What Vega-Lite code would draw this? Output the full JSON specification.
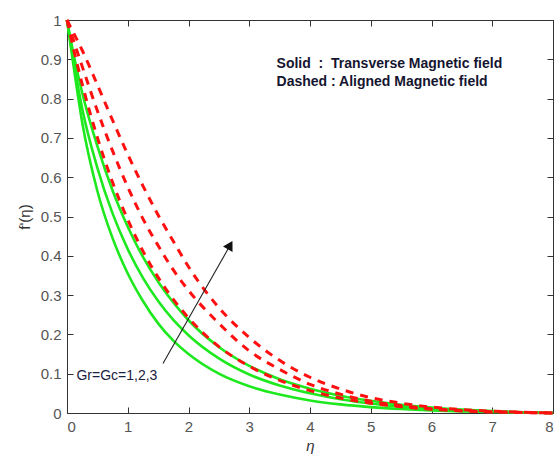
{
  "$schema": "https://vega.github.io/schema/vega-lite/v6.json",
  "width": 486,
  "height": 393,
  "autosize": "none",
  "padding": {"left": 67, "top": 20, "right": 2, "bottom": 48},
  "background": "white",
  "config": {
    "font": "Liberation Sans",
    "view": {"stroke": "#333333", "strokeWidth": 1},
    "axis": {
      "domainColor": "#333333",
      "tickColor": "#333333",
      "labelColor": "#555555",
      "labelFontSize": 15,
      "tickSize": -6,
      "labelPadding": 12,
      "grid": false,
      "titleColor": "#333333",
      "titleFontWeight": "normal",
      "titleFontSize": 15
    }
  },
  "datasets": {
    "curves": [
      {"eta": 0, "f": 1, "field": "Transverse", "Gr": 1},
      {"eta": 0.125, "f": 0.865, "field": "Transverse", "Gr": 1},
      {"eta": 0.25, "f": 0.74, "field": "Transverse", "Gr": 1},
      {"eta": 0.5, "f": 0.565, "field": "Transverse", "Gr": 1},
      {"eta": 0.75, "f": 0.445, "field": "Transverse", "Gr": 1},
      {"eta": 1, "f": 0.355, "field": "Transverse", "Gr": 1},
      {"eta": 1.25, "f": 0.285, "field": "Transverse", "Gr": 1},
      {"eta": 1.5, "f": 0.228, "field": "Transverse", "Gr": 1},
      {"eta": 1.75, "f": 0.184, "field": "Transverse", "Gr": 1},
      {"eta": 2, "f": 0.15, "field": "Transverse", "Gr": 1},
      {"eta": 2.5, "f": 0.1, "field": "Transverse", "Gr": 1},
      {"eta": 3, "f": 0.068, "field": "Transverse", "Gr": 1},
      {"eta": 3.5, "f": 0.047, "field": "Transverse", "Gr": 1},
      {"eta": 4, "f": 0.032, "field": "Transverse", "Gr": 1},
      {"eta": 4.5, "f": 0.022, "field": "Transverse", "Gr": 1},
      {"eta": 5, "f": 0.015, "field": "Transverse", "Gr": 1},
      {"eta": 5.5, "f": 0.01, "field": "Transverse", "Gr": 1},
      {"eta": 6, "f": 0.0065, "field": "Transverse", "Gr": 1},
      {"eta": 6.5, "f": 0.0042, "field": "Transverse", "Gr": 1},
      {"eta": 7, "f": 0.0025, "field": "Transverse", "Gr": 1},
      {"eta": 7.5, "f": 0.0012, "field": "Transverse", "Gr": 1},
      {"eta": 8, "f": 0, "field": "Transverse", "Gr": 1},
      {"eta": 0, "f": 1, "field": "Transverse", "Gr": 2},
      {"eta": 0.125, "f": 0.88, "field": "Transverse", "Gr": 2},
      {"eta": 0.25, "f": 0.775, "field": "Transverse", "Gr": 2},
      {"eta": 0.5, "f": 0.624, "field": "Transverse", "Gr": 2},
      {"eta": 0.75, "f": 0.508, "field": "Transverse", "Gr": 2},
      {"eta": 1, "f": 0.417, "field": "Transverse", "Gr": 2},
      {"eta": 1.25, "f": 0.344, "field": "Transverse", "Gr": 2},
      {"eta": 1.5, "f": 0.285, "field": "Transverse", "Gr": 2},
      {"eta": 1.75, "f": 0.237, "field": "Transverse", "Gr": 2},
      {"eta": 2, "f": 0.198, "field": "Transverse", "Gr": 2},
      {"eta": 2.5, "f": 0.139, "field": "Transverse", "Gr": 2},
      {"eta": 3, "f": 0.098, "field": "Transverse", "Gr": 2},
      {"eta": 3.5, "f": 0.07, "field": "Transverse", "Gr": 2},
      {"eta": 4, "f": 0.05, "field": "Transverse", "Gr": 2},
      {"eta": 4.5, "f": 0.035, "field": "Transverse", "Gr": 2},
      {"eta": 5, "f": 0.024, "field": "Transverse", "Gr": 2},
      {"eta": 5.5, "f": 0.016, "field": "Transverse", "Gr": 2},
      {"eta": 6, "f": 0.0105, "field": "Transverse", "Gr": 2},
      {"eta": 6.5, "f": 0.0065, "field": "Transverse", "Gr": 2},
      {"eta": 7, "f": 0.0038, "field": "Transverse", "Gr": 2},
      {"eta": 7.5, "f": 0.0017, "field": "Transverse", "Gr": 2},
      {"eta": 8, "f": 0, "field": "Transverse", "Gr": 2},
      {"eta": 0, "f": 1, "field": "Transverse", "Gr": 3},
      {"eta": 0.125, "f": 0.9, "field": "Transverse", "Gr": 3},
      {"eta": 0.25, "f": 0.815, "field": "Transverse", "Gr": 3},
      {"eta": 0.5, "f": 0.679, "field": "Transverse", "Gr": 3},
      {"eta": 0.75, "f": 0.566, "field": "Transverse", "Gr": 3},
      {"eta": 1, "f": 0.474, "field": "Transverse", "Gr": 3},
      {"eta": 1.25, "f": 0.397, "field": "Transverse", "Gr": 3},
      {"eta": 1.5, "f": 0.334, "field": "Transverse", "Gr": 3},
      {"eta": 1.75, "f": 0.281, "field": "Transverse", "Gr": 3},
      {"eta": 2, "f": 0.236, "field": "Transverse", "Gr": 3},
      {"eta": 2.5, "f": 0.168, "field": "Transverse", "Gr": 3},
      {"eta": 3, "f": 0.12, "field": "Transverse", "Gr": 3},
      {"eta": 3.5, "f": 0.086, "field": "Transverse", "Gr": 3},
      {"eta": 4, "f": 0.062, "field": "Transverse", "Gr": 3},
      {"eta": 4.5, "f": 0.044, "field": "Transverse", "Gr": 3},
      {"eta": 5, "f": 0.031, "field": "Transverse", "Gr": 3},
      {"eta": 5.5, "f": 0.021, "field": "Transverse", "Gr": 3},
      {"eta": 6, "f": 0.014, "field": "Transverse", "Gr": 3},
      {"eta": 6.5, "f": 0.0085, "field": "Transverse", "Gr": 3},
      {"eta": 7, "f": 0.0048, "field": "Transverse", "Gr": 3},
      {"eta": 7.5, "f": 0.002, "field": "Transverse", "Gr": 3},
      {"eta": 8, "f": 0, "field": "Transverse", "Gr": 3},
      {"eta": 0, "f": 1, "field": "Aligned", "Gr": 1},
      {"eta": 0.125, "f": 0.915, "field": "Aligned", "Gr": 1},
      {"eta": 0.25, "f": 0.837, "field": "Aligned", "Gr": 1},
      {"eta": 0.5, "f": 0.701, "field": "Aligned", "Gr": 1},
      {"eta": 0.75, "f": 0.587, "field": "Aligned", "Gr": 1},
      {"eta": 1, "f": 0.492, "field": "Aligned", "Gr": 1},
      {"eta": 1.25, "f": 0.412, "field": "Aligned", "Gr": 1},
      {"eta": 1.5, "f": 0.345, "field": "Aligned", "Gr": 1},
      {"eta": 1.75, "f": 0.289, "field": "Aligned", "Gr": 1},
      {"eta": 2, "f": 0.242, "field": "Aligned", "Gr": 1},
      {"eta": 2.5, "f": 0.169, "field": "Aligned", "Gr": 1},
      {"eta": 3, "f": 0.119, "field": "Aligned", "Gr": 1},
      {"eta": 3.5, "f": 0.083, "field": "Aligned", "Gr": 1},
      {"eta": 4, "f": 0.057, "field": "Aligned", "Gr": 1},
      {"eta": 4.5, "f": 0.038, "field": "Aligned", "Gr": 1},
      {"eta": 5, "f": 0.025, "field": "Aligned", "Gr": 1},
      {"eta": 5.5, "f": 0.016, "field": "Aligned", "Gr": 1},
      {"eta": 6, "f": 0.0095, "field": "Aligned", "Gr": 1},
      {"eta": 6.5, "f": 0.0052, "field": "Aligned", "Gr": 1},
      {"eta": 7, "f": 0.0027, "field": "Aligned", "Gr": 1},
      {"eta": 7.5, "f": 0.0011, "field": "Aligned", "Gr": 1},
      {"eta": 8, "f": 0, "field": "Aligned", "Gr": 1},
      {"eta": 0, "f": 1, "field": "Aligned", "Gr": 2},
      {"eta": 0.125, "f": 0.94, "field": "Aligned", "Gr": 2},
      {"eta": 0.25, "f": 0.882, "field": "Aligned", "Gr": 2},
      {"eta": 0.5, "f": 0.769, "field": "Aligned", "Gr": 2},
      {"eta": 0.75, "f": 0.667, "field": "Aligned", "Gr": 2},
      {"eta": 1, "f": 0.575, "field": "Aligned", "Gr": 2},
      {"eta": 1.25, "f": 0.494, "field": "Aligned", "Gr": 2},
      {"eta": 1.5, "f": 0.426, "field": "Aligned", "Gr": 2},
      {"eta": 1.75, "f": 0.364, "field": "Aligned", "Gr": 2},
      {"eta": 2, "f": 0.312, "field": "Aligned", "Gr": 2},
      {"eta": 2.5, "f": 0.228, "field": "Aligned", "Gr": 2},
      {"eta": 3, "f": 0.158, "field": "Aligned", "Gr": 2},
      {"eta": 3.5, "f": 0.111, "field": "Aligned", "Gr": 2},
      {"eta": 4, "f": 0.073, "field": "Aligned", "Gr": 2},
      {"eta": 4.5, "f": 0.048, "field": "Aligned", "Gr": 2},
      {"eta": 5, "f": 0.03, "field": "Aligned", "Gr": 2},
      {"eta": 5.5, "f": 0.019, "field": "Aligned", "Gr": 2},
      {"eta": 6, "f": 0.011, "field": "Aligned", "Gr": 2},
      {"eta": 6.5, "f": 0.0063, "field": "Aligned", "Gr": 2},
      {"eta": 7, "f": 0.0032, "field": "Aligned", "Gr": 2},
      {"eta": 7.5, "f": 0.0014, "field": "Aligned", "Gr": 2},
      {"eta": 8, "f": 0, "field": "Aligned", "Gr": 2},
      {"eta": 0, "f": 1, "field": "Aligned", "Gr": 3},
      {"eta": 0.125, "f": 0.962, "field": "Aligned", "Gr": 3},
      {"eta": 0.25, "f": 0.923, "field": "Aligned", "Gr": 3},
      {"eta": 0.5, "f": 0.835, "field": "Aligned", "Gr": 3},
      {"eta": 0.75, "f": 0.745, "field": "Aligned", "Gr": 3},
      {"eta": 1, "f": 0.658, "field": "Aligned", "Gr": 3},
      {"eta": 1.25, "f": 0.578, "field": "Aligned", "Gr": 3},
      {"eta": 1.5, "f": 0.504, "field": "Aligned", "Gr": 3},
      {"eta": 1.75, "f": 0.437, "field": "Aligned", "Gr": 3},
      {"eta": 2, "f": 0.372, "field": "Aligned", "Gr": 3},
      {"eta": 2.5, "f": 0.268, "field": "Aligned", "Gr": 3},
      {"eta": 3, "f": 0.192, "field": "Aligned", "Gr": 3},
      {"eta": 3.5, "f": 0.134, "field": "Aligned", "Gr": 3},
      {"eta": 4, "f": 0.091, "field": "Aligned", "Gr": 3},
      {"eta": 4.5, "f": 0.061, "field": "Aligned", "Gr": 3},
      {"eta": 5, "f": 0.039, "field": "Aligned", "Gr": 3},
      {"eta": 5.5, "f": 0.025, "field": "Aligned", "Gr": 3},
      {"eta": 6, "f": 0.015, "field": "Aligned", "Gr": 3},
      {"eta": 6.5, "f": 0.0087, "field": "Aligned", "Gr": 3},
      {"eta": 7, "f": 0.0046, "field": "Aligned", "Gr": 3},
      {"eta": 7.5, "f": 0.002, "field": "Aligned", "Gr": 3},
      {"eta": 8, "f": 0, "field": "Aligned", "Gr": 3}
    ],
    "arrow": [{"x": 1.58, "y": 0.126, "x2": 2.69, "y2": 0.428}],
    "head": [{"x": 2.685, "y": 0.427}],
    "legend": [
      {"x": 3.45, "y": 0.889, "label": "Solid\u00a0\u00a0:\u00a0\u00a0Transverse Magnetic field"},
      {"x": 3.45, "y": 0.841, "label": "Dashed : Aligned Magnetic field"}
    ],
    "note": [{"x": 0.155, "y": 0.094, "label": "Gr=Gc=1,2,3"}]
  },
  "layer": [
    {
      "data": {"name": "curves"},
      "transform": [{"filter": "datum.field === 'Transverse'"}],
      "mark": {"type": "line", "color": "#1ee81e", "strokeWidth": 2.6, "interpolate": "monotone"},
      "encoding": {
        "x": {"field": "eta", "type": "quantitative", "scale": {"domain": [0, 8], "nice": false},
              "axis": {"orient": "bottom", "values": [0,1,2,3,4,5,6,7,8], "format": "d", "title": "η", "titleFontStyle": "italic", "titlePadding": 4}},
        "y": {"field": "f", "type": "quantitative", "scale": {"domain": [0, 1], "nice": false},
              "axis": {"orient": "left", "values": [0,0.1,0.2,0.3,0.4,0.5,0.6,0.7,0.8,0.9,1], "format": "~g", "title": "f'(η)", "titlePadding": 8}},
        "detail": {"field": "Gr", "type": "nominal"}
      }
    },
    {
      "data": {"name": "curves"},
      "transform": [{"filter": "datum.field === 'Aligned'"}],
      "mark": {"type": "line", "color": "#ff1010", "strokeWidth": 3, "strokeDash": [8, 7], "interpolate": "monotone"},
      "encoding": {
        "x": {"field": "eta", "type": "quantitative", "axis": null},
        "y": {"field": "f", "type": "quantitative", "axis": null},
        "detail": {"field": "Gr", "type": "nominal"}
      }
    },
    {
      "data": {"name": "arrow"},
      "mark": {"type": "rule", "color": "#222222", "strokeWidth": 1.1},
      "encoding": {
        "x": {"field": "x", "type": "quantitative", "axis": null},
        "y": {"field": "y", "type": "quantitative", "axis": null},
        "x2": {"field": "x2"},
        "y2": {"field": "y2"}
      }
    },
    {
      "data": {"name": "head"},
      "mark": {"type": "point", "shape": "triangle-up", "angle": 29.6, "filled": true, "size": 120, "color": "#111111", "opacity": 1},
      "encoding": {
        "x": {"field": "x", "type": "quantitative", "axis": null},
        "y": {"field": "y", "type": "quantitative", "axis": null}
      }
    },
    {
      "data": {"name": "legend"},
      "mark": {"type": "text", "align": "left", "baseline": "middle", "fontSize": 14, "fontWeight": "bold", "color": "#151530"},
      "encoding": {
        "x": {"field": "x", "type": "quantitative",
              "axis": {"orient": "top", "values": [0,1,2,3,4,5,6,7,8], "labels": false, "title": null}},
        "y": {"field": "y", "type": "quantitative",
              "axis": {"orient": "right", "values": [0,0.1,0.2,0.3,0.4,0.5,0.6,0.7,0.8,0.9,1], "labels": false, "title": null}},
        "text": {"field": "label"}
      }
    },
    {
      "data": {"name": "note"},
      "mark": {"type": "text", "align": "left", "baseline": "middle", "fontSize": 14, "color": "#1a2040"},
      "encoding": {
        "x": {"field": "x", "type": "quantitative", "axis": null},
        "y": {"field": "y", "type": "quantitative", "axis": null},
        "text": {"field": "label"}
      }
    }
  ],
  "resolve": {"axis": {"x": "independent", "y": "independent"}}
}
